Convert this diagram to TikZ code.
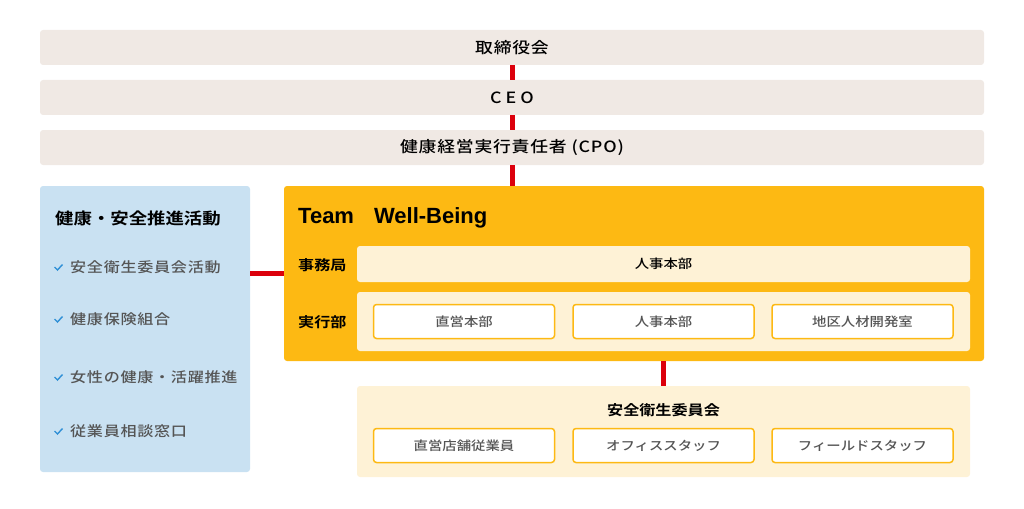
\documentclass[tikz,border=0pt]{standalone}
\usepackage{fontspec}
\setmainfont{Noto Sans CJK JP}[UprightFont={* Medium}, BoldFont={* Bold}, FakeStretch=1.15]
\newfontfamily\latinbold{Liberation Sans}[UprightFont={* Bold}]
\usetikzlibrary{positioning}

\definecolor{topbg}{HTML}{F0E9E4}
\definecolor{bluebg}{HTML}{C9E1F2}
\definecolor{teamyellow}{HTML}{FDB913}
\definecolor{cream}{HTML}{FEF2D6}
\definecolor{linkred}{HTML}{DC000C}
\definecolor{textgray}{HTML}{555555}
\definecolor{checkblue}{HTML}{2E8FD6}

\begin{document}
\begin{tikzpicture}[x=1pt,y=-1pt,
    toprow/.style={fill=topbg, rounded corners=3pt, minimum width=944pt, minimum height=35pt,
      inner sep=0pt, font=\fontsize{15.5}{15.5}\selectfont\addfontfeatures{LetterSpace=5}},
    link/.style={linkred, line width=5pt},
    panel/.style={rounded corners=3pt, inner sep=0pt},
    unitbox/.style={draw=teamyellow, line width=1.5pt, fill=white, rounded corners=3pt,
      minimum width=181pt, minimum height=34pt, inner sep=0pt,
      font=\fontsize{12.5}{12.5}\selectfont, text=textgray},
    rowlabel/.style={anchor=west, inner sep=0pt, font=\fontsize{14}{14}\selectfont\bfseries},
    item/.style={anchor=west, inner sep=0pt,
      font=\fontsize{14}{14}\selectfont\addfontfeatures{LetterSpace=5}, text=textgray},
    tick/.style={checkblue, line width=1.4pt}]
  \useasboundingbox (0,0) rectangle (1024,508);

  % Top rows
  \node[toprow] (board) at (512,47.5) {取締役会};
  \node[toprow] (ceo) at (512,97.5) {C\hspace{4pt}E\hspace{4pt}O};
  \node[toprow] (cpo) at (512,147.5) {健康経営実行責任者 (CPO)};

  % Panels
  \node[panel, fill=bluebg, minimum width=210pt, minimum height=286pt] (health) at (145,329) {};
  \node[panel, fill=teamyellow, minimum width=700pt, minimum height=175pt] (team) at (634,273.5) {};
  \node[panel, fill=cream, minimum width=613pt, minimum height=36pt] (jimu) at (663.5,264) {};
  \node[panel, fill=cream, minimum width=613pt, minimum height=59pt] (jikko) at (663.5,321.5) {};
  \node[panel, fill=cream, minimum width=613pt, minimum height=91pt] (committee) at (663.5,431.5) {};

  % Links
  \draw[link] (board.south) -- (ceo.north);
  \draw[link] (ceo.south) -- (cpo.north);
  \draw[link] (cpo.south) -- (cpo.south |- team.north);
  \draw[link] (health.east |- team.west) -- (team.west);
  \draw[link] (committee.north |- team.south) -- (committee.north);

  % Health and safety activities
  \node[rowlabel, font=\fontsize{16}{16}\selectfont\bfseries] (healthtitle) at (55,218) {健康・安全推進活動};
  \foreach \y/\txt [count=\i] in {267/安全衛生委員会活動, 319/健康保険組合, 377/女性の健康・活躍推進, 431/従業員相談窓口} {
    \draw[tick] (54.5,\y) -- (57.5,\y+3) -- (62.5,\y-2.5);
    \node[item] (act\i) at (70,\y) {\txt};
  }

  % Team Well-Being
  \node[rowlabel, font=\fontsize{22}{22}\latinbold] (teamtitle) at (298,218) {Team\hspace{20pt}Well-Being};
  \node[rowlabel] (jimulabel) at (298,265) {事務局};
  \node[inner sep=0pt, font=\fontsize{12.5}{12.5}\selectfont] (jimuunit) at (jimu) {人事本部};
  \node[rowlabel] (jikkolabel) at (298,322) {実行部};
  \node[unitbox] (chokuei) at (464,321.5) {直営本部};
  \node[unitbox] (jinji) at (663.5,321.5) {人事本部};
  \node[unitbox] (chiku) at (862.5,321.5) {地区人材開発室};

  % Safety and health committee
  \node[inner sep=0pt, font=\fontsize{14}{14}\selectfont\bfseries] (committeetitle) at (663.5,410) {安全衛生委員会};
  \node[unitbox] (tenpo) at (464,445.5) {直営店舗従業員};
  \node[unitbox] (office) at (663.5,445.5) {オフィススタッフ};
  \node[unitbox] (field) at (862.5,445.5) {フィールドスタッフ};
\end{tikzpicture}
\end{document}
